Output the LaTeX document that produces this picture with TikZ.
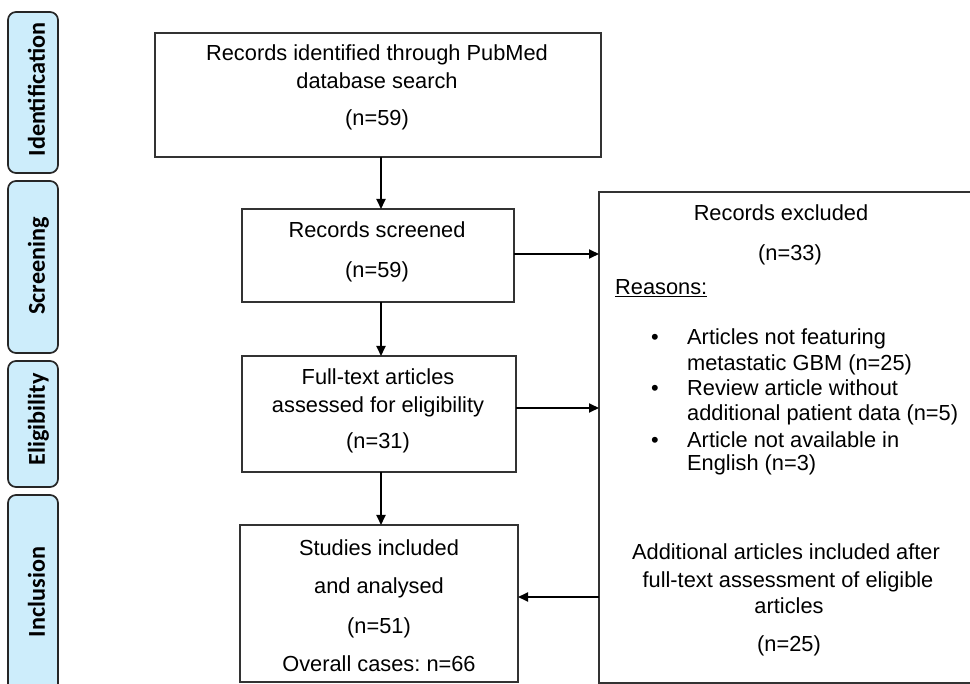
\documentclass[tikz,border=0pt]{standalone}
\usepackage{fontspec}
\setmainfont{Liberation Sans}
\newfontfamily\tabfont{Carlito}
\usetikzlibrary{arrows.meta}
\definecolor{tabblue}{HTML}{CDEDFB}
\definecolor{boxline}{HTML}{333333}
\frenchspacing
\begin{document}
\begin{tikzpicture}[x=1pt,y=-1pt,
  box/.style={draw=boxline,line width=1.4pt,inner sep=0pt,outer sep=0pt},
  tabbox/.style={draw=black!85,line width=1.7pt,fill=tabblue,rounded corners=8pt,inner sep=0pt,outer sep=0pt,minimum width=50pt},
  tabtext/.style={font=\tabfont\bfseries\fontsize{24.2}{26}\selectfont,rotate=90,anchor=base,inner sep=0pt},
  txt/.style={font=\fontsize{21.8}{25}\selectfont,anchor=base,inner sep=0pt},
  ltxt/.style={font=\fontsize{21.8}{25}\selectfont,anchor=base west,inner sep=0pt},
  arr/.style={-{Triangle[length=10pt,width=9pt]},line width=1.9pt,draw=black}]
\useasboundingbox (0,0) rectangle (970,684);
\clip (0,0) rectangle (970,684);
% phase tabs
\node[tabbox,minimum height=161pt] (t1) at (33,92.5) {};
\node[tabbox,minimum height=172pt] (t2) at (33,267) {};
\node[tabbox,minimum height=126pt] (t3) at (33,424) {};
\node[tabbox,minimum height=210pt] (t4) at (33,600) {};
\node[tabtext] (t1l) at (45,89.5) {Identification};
\node[tabtext] (t2l) at (45,266) {Screening};
\node[tabtext] (t3l) at (45,419.5) {Eligibility};
\node[tabtext] (t4l) at (45,592) {Inclusion};
% boxes
\node[box,minimum width=446pt,minimum height=124pt] (b1) at (378,95) {};
\node[box,minimum width=272pt,minimum height=93pt] (b2) at (378,255.5) {};
\node[box,minimum width=274pt,minimum height=116pt] (b3) at (379,414) {};
\node[box,minimum width=278pt,minimum height=157pt] (b4) at (379,603.5) {};
\node[box,minimum width=381pt,minimum height=491pt] (rb) at (789.5,437.5) {};
% texts
\node[txt] (b1a) at (377,61) {Records identified through PubMed};
\node[txt] (b1b) at (377,89) {database search};
\node[txt] (b1c) at (377,126) {(n=59)};
\node[txt] (b2a) at (377,238) {Records screened};
\node[txt] (b2b) at (377,278) {(n=59)};
\node[txt] (b3a) at (378,385) {Full-text articles};
\node[txt] (b3b) at (378,413) {assessed for eligibility};
\node[txt] (b3c) at (378,449) {(n=31)};
\node[txt] (b4a) at (379,555) {Studies included};
\node[txt] (b4b) at (379,594) {and analysed};
\node[txt] (b4c) at (379,633) {(n=51)};
\node[txt] (b4d) at (379,671) {Overall cases: n=66};
\node[txt] (r1) at (781,221) {Records excluded};
\node[txt] (r2) at (790,261) {(n=33)};
\node[ltxt] (r3) at (615,295) {\underline{Reasons:}};
\node[txt] (bu1) at (655,345) {•};
\node[ltxt] (r4) at (687,345) {Articles not featuring};
\node[ltxt] (r5) at (687,371) {metastatic GBM (n=25)};
\node[txt] (bu2) at (655,396) {•};
\node[ltxt] (r6) at (687,396) {Review article without};
\node[ltxt] (r7) at (687,421) {additional patient data (n=5)};
\node[txt] (bu3) at (655,448) {•};
\node[ltxt] (r8) at (687,448) {Article not available in};
\node[ltxt] (r9) at (687,471) {English (n=3)};
\node[txt] (r10) at (786,560) {Additional articles included after};
\node[txt] (r11) at (788,587) {full-text assessment of eligible};
\node[txt] (r12) at (789,613) {articles};
\node[txt] (r13) at (789,651) {(n=25)};
% connectors
\coordinate (ax) at (381,0);
\coordinate (a1) at (0,254);
\coordinate (a2) at (0,408);
\coordinate (a3) at (0,597);
\draw[arr] (b1.south -| ax) -- (b2.north -| ax);
\draw[arr] (b2.south -| ax) -- (b3.north -| ax);
\draw[arr] (b3.south -| ax) -- (b4.north -| ax);
\draw[arr] (b2.east |- a1) -- (rb.west |- a1);
\draw[arr] (b3.east |- a2) -- (rb.west |- a2);
\draw[arr] (rb.west |- a3) -- (b4.east |- a3);
\end{tikzpicture}
\end{document}
